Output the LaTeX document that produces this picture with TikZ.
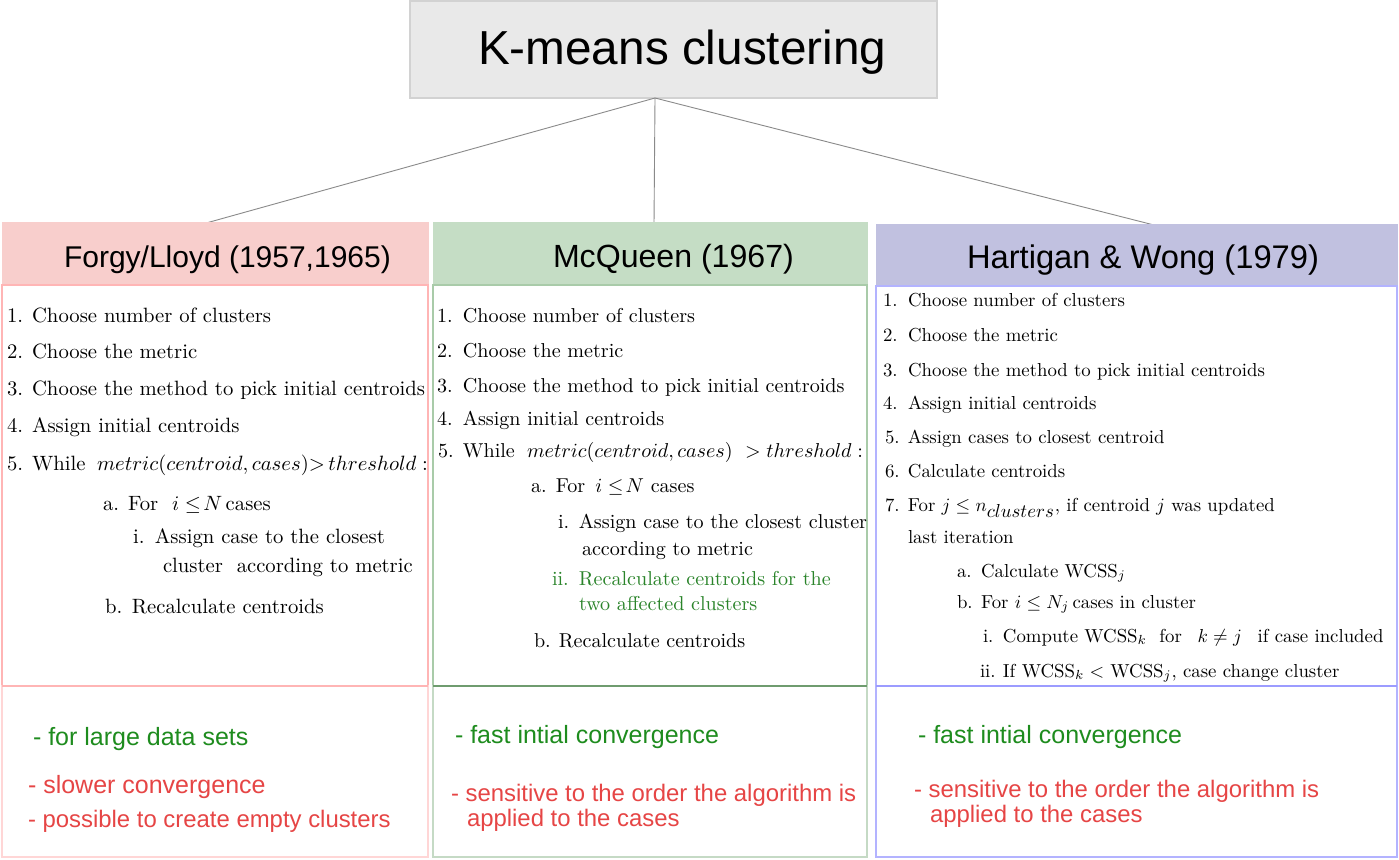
\documentclass[tikz,border=0pt]{standalone}
\usepackage{fontspec}
\usepackage{graphicx}
\newfontfamily\hv{Liberation Sans}
\usetikzlibrary{calc}
\definecolor{titlefill}{HTML}{E9E9E9}
\definecolor{titledraw}{HTML}{D2D2D2}
\definecolor{conngray}{HTML}{8A8A8A}
\definecolor{pinkfill}{HTML}{F8CECC}
\definecolor{pinkdraw}{HTML}{FFB5B5}
\definecolor{pinklight}{HTML}{FFD6D6}
\definecolor{greenfill}{HTML}{C5DDC5}
\definecolor{greendraw}{HTML}{A9CBA9}
\definecolor{greendark}{HTML}{6F9C6F}
\definecolor{greenlight}{HTML}{C5DAC5}
\definecolor{violetfill}{HTML}{C1C1E0}
\definecolor{violetdraw}{HTML}{B3B3FF}
\definecolor{violetdark}{HTML}{9C9CFF}
\definecolor{goodgreen}{HTML}{1E8C1E}
\definecolor{bodygreen}{HTML}{2A842A}
\definecolor{badred}{HTML}{E64545}
\tikzset{
  box/.style={rectangle, inner sep=0pt, outer sep=0pt},
  txt/.style={anchor=base west, inner sep=0pt, outer sep=0pt},
  conn/.style={draw=conngray, line width=0.9pt},
  gtxt/.style={txt, text=goodgreen, font=\hv\fontsize{25}{30}\selectfont},
  rtxt/.style={txt, text=badred, font=\hv\fontsize{23.9}{29}\selectfont},
  htxt/.style={txt, text=black},
}
\newcommand\sA[1]{\scalebox{2.07}{\fontsize{10}{12}\selectfont #1}}
\newcommand\sB[1]{\scalebox{2.01}{\fontsize{10}{12}\selectfont #1}}
\newcommand\sC[1]{\scalebox{1.88}{\fontsize{10}{12}\selectfont #1}}
\newcommand\lab[2]{\makebox[#1][l]{#2}}
\begin{document}
\begin{tikzpicture}[x=1pt,y=-1pt]
\useasboundingbox (0,0) rectangle (1399,859);
\fill[white] (0,0) rectangle (1399,859);

% title
\node[box, fill=titlefill, draw=titledraw, line width=1.2pt, minimum width=527pt, minimum height=97pt] (title) at (673.5,49.5) {};
\node[htxt, font=\hv\fontsize{47.7}{55}\selectfont] (ttl) at (478,64) {K-means clustering};

% connector anchors
\coordinate (root) at (655,98);
\coordinate (e1) at (208,222.5);
\coordinate (e2) at (654,224);
\coordinate (e3) at (1152,224.5);
\draw[conn] (root) -- (e1);
\draw[conn] (root) -- (e2);
\draw[conn] (root) -- (e3);

% column boxes
\node[box, fill=pinkfill, draw=pinkfill, minimum width=426pt, minimum height=63pt] (h1) at (215,253.5) {};
\node[box, draw=pinkdraw, line width=1.5pt, minimum width=426pt, minimum height=401pt] (b1) at (215,485.5) {};
\node[box, draw=pinklight, line width=1.5pt, minimum width=426pt, minimum height=171pt] (p1) at (215,771.5) {};
\draw[draw=pinkdraw, line width=1.5pt] (b1.south west) -- (b1.south east);

\node[box, fill=greenfill, draw=greenfill, minimum width=434pt, minimum height=63pt] (h2) at (650,253.5) {};
\node[box, draw=greendraw, line width=1.3pt, minimum width=434pt, minimum height=401pt] (b2) at (650,485.5) {};
\node[box, draw=greenlight, line width=1.5pt, minimum width=434pt, minimum height=171pt] (p2) at (650,771.5) {};
\draw[draw=greendark, line width=1.3pt] (b2.south west) -- (b2.south east);

\node[box, fill=violetfill, draw=violetfill, minimum width=521pt, minimum height=62pt] (h3) at (1136.5,255) {};
\node[box, draw=violetdraw, line width=1.3pt, minimum width=521pt, minimum height=400pt] (b3) at (1136.5,486) {};
\node[box, draw=violetdraw, line width=1.3pt, minimum width=521pt, minimum height=171pt] (p3) at (1136.5,771.5) {};
\draw[draw=violetdark, line width=1.3pt] (b3.south west) -- (b3.south east);

% header texts
\node[htxt, font=\hv\fontsize{30}{36}\selectfont] (t1) at (64,267) {Forgy/Lloyd (1957,1965)};
\node[htxt, font=\hv\fontsize{32.1}{38}\selectfont] (t2) at (553,267) {McQueen (1967)};
\node[htxt, font=\hv\fontsize{32.7}{38}\selectfont] (t3) at (967,268) {Hartigan \& Wong (1979)};

% column 1 body
\node[txt] (c1a) at (7,322) {\sA{\lab{12.1pt}{1.}Choose number of clusters}};
\node[txt] (c1b) at (7,358) {\sA{\lab{12.1pt}{2.}Choose the metric}};
\node[txt] (c1c) at (7,395) {\sA{\lab{12.1pt}{3.}Choose the method to pick initial centroids}};
\node[txt] (c1d) at (7,432) {\sA{\lab{12.1pt}{4.}Assign initial centroids}};
\node[txt] (c1e) at (7,470) {\sA{\lab{12.1pt}{5.}\lab{31.4pt}{While}$metric(centroid, cases){>}\,threshold\;{:}$}};
\node[txt] (c1f) at (103,510) {\sA{\lab{12.1pt}{a.}For \ $i\le\!N$\,cases}};
\node[txt] (c1g) at (133,543) {\sA{\lab{10.6pt}{i.}Assign case to the closest}};
\node[txt] (c1h) at (163,572) {\sA{cluster \ according to metric}};
\node[txt] (c1i) at (105,613) {\sA{\lab{13pt}{b.}Recalculate centroids}};

% column 2 body
\node[txt] (c2a) at (437,322) {\sB{\lab{12.9pt}{1.}Choose number of clusters}};
\node[txt] (c2b) at (437,357) {\sB{\lab{12.9pt}{2.}Choose the metric}};
\node[txt] (c2c) at (437,392) {\sB{\lab{12.9pt}{3.}Choose the method to pick initial centroids}};
\node[txt] (c2d) at (437,425) {\sB{\lab{12.9pt}{4.}Assign initial centroids}};
\node[txt] (c2e) at (438,457) {\sB{\lab{12.4pt}{5.}\lab{31.9pt}{While}$metric(centroid, cases)\ >threshold\;{:}$}};
\node[txt] (c2f) at (531,492) {\sB{\lab{12.4pt}{a.}For \,$i\le\!N$ cases}};
\node[txt] (c2g) at (558,528) {\sB{\lab{10.4pt}{i.}Assign case to the closest cluster}};
\node[txt] (c2h) at (582,555) {\sB{according to metric}};
\node[txt, text=bodygreen] (c2i) at (552,585) {\sB{\lab{13.4pt}{ii.}Recalculate centroids for the}};
\node[txt, text=bodygreen] (c2j) at (579,610) {\sB{two affected clusters}};
\node[txt] (c2k) at (534,647) {\sB{\lab{12.4pt}{b.}Recalculate centroids}};

% column 3 body
\node[txt] (c3a) at (883,306) {\sC{\lab{13.3pt}{1.}Choose number of clusters}};
\node[txt] (c3b) at (883,341) {\sC{\lab{13.3pt}{2.}Choose the metric}};
\node[txt] (c3c) at (883,376) {\sC{\lab{13.3pt}{3.}Choose the method to pick initial centroids}};
\node[txt] (c3d) at (883,409) {\sC{\lab{13.3pt}{4.}Assign initial centroids}};
\node[txt] (c3e) at (885,443) {\sC{\lab{12.2pt}{5.}Assign cases to closest centroid}};
\node[txt] (c3f) at (885,477) {\sC{\lab{12.2pt}{6.}Calculate centroids}};
\node[txt] (c3g) at (885,511) {\sC{\lab{12.2pt}{7.}For $j\le n_{\textstyle clusters}$, if centroid $j$ was updated}};
\node[txt] (c3h) at (908,543) {\sC{last iteration}};
\node[txt] (c3i) at (957,577) {\sC{\lab{12.8pt}{a.}Calculate WCSS$_j$}};
\node[txt] (c3j) at (957,608) {\sC{\lab{12.8pt}{b.}For $i\le N_j$\,cases in cluster}};
\node[txt] (c3k) at (983,642) {\sC{\lab{10.6pt}{i.}Compute WCSS$_k$\ \ for\ \ \,$k\ne j$\ \ \,if case included}};
\node[txt] (c3l) at (980,677) {\sC{\lab{12.2pt}{ii.}If WCSS$_k<$ WCSS$_j$, case change cluster}};

% bottom notes
\node[gtxt] (n1a) at (33,745) {- for large data sets};
\node[rtxt, font=\hv\fontsize{25}{30}\selectfont] (n1b) at (28,793) {- slower convergence};
\node[rtxt] (n1c) at (28,827) {- possible to create empty clusters};
\node[gtxt] (n2a) at (455,743) {- fast intial convergence};
\node[rtxt] (n2b) at (451,801) {- sensitive to the order the algorithm is};
\node[rtxt] (n2c) at (467,826) {applied to the cases};
\node[gtxt] (n3a) at (918,743) {- fast intial convergence};
\node[rtxt] (n3b) at (914,797) {- sensitive to the order the algorithm is};
\node[rtxt] (n3c) at (930,822) {applied to the cases};
\end{tikzpicture}
\end{document}
